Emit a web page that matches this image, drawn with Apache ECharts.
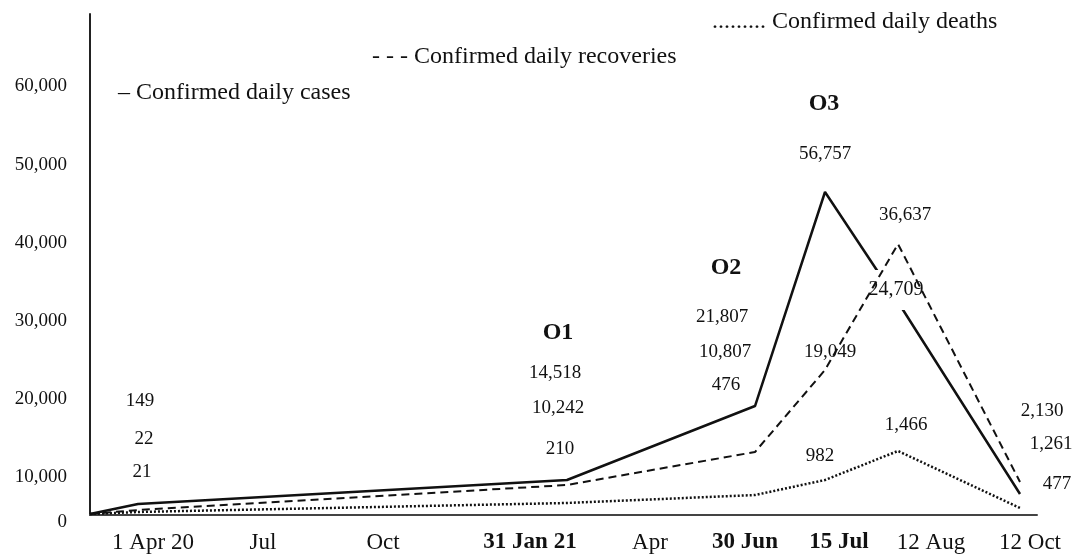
<!DOCTYPE html>
<html>
<head>
<meta charset="utf-8">
<script src="https://cdn.jsdelivr.net/npm/echarts@6/dist/echarts.min.js"></script>
<style>
  html, body { margin: 0; background: #fff; }
  #chart { width: 1074px; height: 555px; }
</style>
</head>
<body>
<div id="chart"></div>
<script>
// positions along the x axis (spacing in the figure is not proportional to time)
const pointX = [0, 48, 477, 665, 735, 808, 930];
const casesLine = [5330, 6610, 9680, 19140, 46510, 32440, 7890];
const recoveriesLine = [5330, 5840, 9040, 13260, 23750, 39860, 9430];
const deathsLine = [5330, 5590, 6740, 7760, 9680, 13390, 6100];

const tickPos = [63, 173, 293, 440, 560, 655, 749, 841, 940];
const tickLabels = ['1 Apr 20', 'Jul', 'Oct', '31 Jan 21', 'Apr', '30 Jun', '15 Jul', '12 Aug', '12 Oct'];
const boldTicks = ['31 Jan 21', '30 Jun', '15 Jul'];

const yMin = 5205;
const yMax = 69270;
const yTicks = [yMin, 10000, 20000, 30000, 40000, 50000, 60000];

const noteText = ['149', '22', '21', 'O1', '14,518', '10,242', '210', 'O2', '21,807', '10,807', '476',
  'O3', '56,757', '36,637', '24,709', '19,049', '982', '1,466', '2,130', '1,261', '477'];
const noteAt = [[50, 19780], [54, 14920], [52, 10700], [468, 28480], [465, 23360], [468, 18890], [470, 13650],
  [636, 36790], [632, 30530], [635, 26050], [636, 21830], [734, 57760], [735, 51370], [815, 43570],
  [806, 33980], [740, 26050], [730, 12750], [816, 16710], [952, 18500], [961, 14280], [967, 9170]];

const FONT = 'Liberation Serif';
const INK = '#111';

const fmt = v => String(Math.round(v)).replace(/\B(?=(\d{3})+(?!\d))/g, ',');
const pairs = ys => pointX.map((x, i) => [x, ys[i]]);

const legendBase = {
  icon: 'rect', itemWidth: 0, itemHeight: 0, padding: 0, selectedMode: false,
  textStyle: { fontFamily: FONT, fontSize: 24, lineHeight: 26, color: INK }
};

const notes = noteAt.map((c, i) => {
  const t = noteText[i];
  const item = { value: c };
  if (/^O\d$/.test(t)) item.label = { fontSize: 24, fontWeight: 'bold' };
  if (t === '24,709') item.label = { fontSize: 20, backgroundColor: '#fff', padding: [10, 2] };
  return item;
});

const chart = echarts.init(document.getElementById('chart'));
chart.setOption({
  animation: false,
  backgroundColor: '#fff',
  grid: { left: 90, right: 37, top: 14, bottom: 40, outerBoundsMode: 'none' },
  legend: [
    Object.assign({}, legendBase, { data: ['Confirmed daily cases'], left: 113, top: 80, formatter: n => '– ' + n }),
    Object.assign({}, legendBase, { data: ['Confirmed daily recoveries'], left: 367, top: 44, formatter: n => '- - - ' + n }),
    Object.assign({}, legendBase, { data: ['Confirmed daily deaths'], left: 707, top: 9, formatter: n => '......... ' + n })
  ],
  xAxis: {
    type: 'value', min: 0, max: 947,
    axisLine: { show: true, onZero: false, lineStyle: { color: '#444', width: 2 } },
    axisTick: { show: false },
    splitLine: { show: false },
    axisLabel: {
      customValues: tickPos,
      margin: 16,
      formatter: v => {
        const t = tickLabels[tickPos.indexOf(v)] || '';
        return boldTicks.includes(t) ? '{b|' + t + '}' : '{n|' + t + '}';
      },
      rich: {
        n: { fontFamily: FONT, fontSize: 23, color: INK },
        b: { fontFamily: FONT, fontSize: 23, color: INK, fontWeight: 'bold' }
      }
    }
  },
  yAxis: {
    type: 'value', min: yMin, max: yMax,
    axisLine: { show: true, lineStyle: { color: '#222', width: 2 } },
    axisTick: { show: false },
    splitLine: { show: false },
    axisLabel: {
      customValues: yTicks,
      margin: 23,
      fontFamily: FONT, fontSize: 19, color: INK,
      formatter: v => v < 10000 ? '{z|0}' : fmt(v),
      rich: { z: { fontFamily: FONT, fontSize: 19, color: INK, padding: [15, 0, 0, 0] } }
    }
  },
  series: [
    {
      name: 'Confirmed daily cases', type: 'line', data: pairs(casesLine),
      symbol: 'none', z: 2, silent: true,
      lineStyle: { color: INK, width: 2.5, type: 'solid' }
    },
    {
      name: 'notes', type: 'scatter', data: notes, z: 3, silent: true, clip: false,
      symbolSize: 1, itemStyle: { color: 'transparent', opacity: 1 },
      label: {
        show: true, position: 'inside', fontFamily: FONT, fontSize: 19, color: INK,
        textBorderWidth: 0, formatter: p => noteText[p.dataIndex]
      }
    },
    {
      name: 'Confirmed daily recoveries', type: 'line', data: pairs(recoveriesLine),
      symbol: 'none', z: 4, silent: true,
      lineStyle: { color: INK, width: 2, type: [8, 5] }
    },
    {
      name: 'Confirmed daily deaths', type: 'line', data: pairs(deathsLine),
      symbol: 'none', z: 4, silent: true,
      lineStyle: { color: INK, width: 2.5, type: [2, 2] }
    }
  ]
});
</script>
</body>
</html>
